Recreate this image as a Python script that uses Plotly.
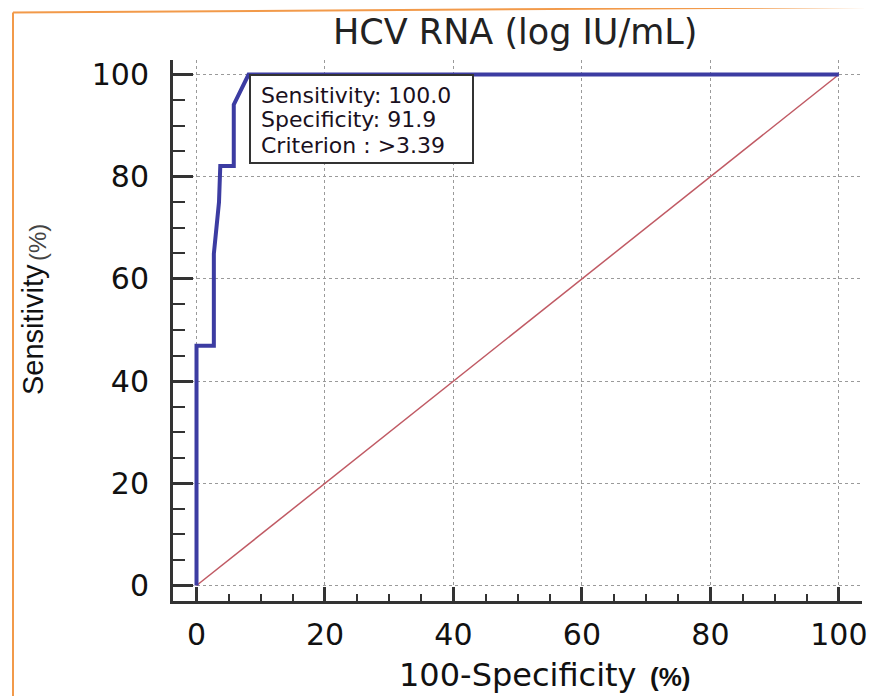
import plotly.graph_objects as go

# ROC curve (x = 100-Specificity, y = Sensitivity)
roc_fpr  = [0, 0, 2.7, 2.7, 3.5, 3.7, 5.8, 5.8, 8.1, 100]
roc_sens = [0, 46.9, 46.9, 64.9, 75.0, 82.1, 82.1, 94.1, 100, 100]

diag_x = [0, 100]
diag_y = [0, 100]

TITLE = "HCV RNA (log IU/mL)"
STATS = ["Sensitivity: 100.0", "Specificity: 91.9", "Criterion : >3.39"]

COLORS = {
    "roc"    : "#3c3ca2",
    "diag"   : "#c05a64",
    "axis"   : "#333333",
    "grid"   : "#9a9a9a",
    "text"   : "#111111",
    "border" : "#f29a4a",
}

FONT = "DejaVu Sans"
ARIAL = "Liberation Sans, Arial, sans-serif"

# page body has an 8px margin, so the figure sits 8px in from the window corner
PAGE_OFF = 8
W, H = 876, 696
PLOT_L, PLOT_R, PLOT_T, PLOT_B = 173, 862, 60, 601  # window pixels


def px(x):
    return (x - PLOT_L) / (PLOT_R - PLOT_L)


def py(y):
    return (PLOT_B - y) / (PLOT_B - PLOT_T)


fig = go.Figure()
fig.add_trace(go.Scatter(
    x=diag_x, y=diag_y, mode="lines",
    line=dict(color=COLORS["diag"], width=1.5),
    hoverinfo="skip", showlegend=False,
))
fig.add_trace(go.Scatter(
    x=roc_fpr, y=roc_sens, mode="lines",
    line=dict(color=COLORS["roc"], width=4),
    hovertemplate="100-Spec: %{x}<br>Sens: %{y}<extra></extra>",
    showlegend=False,
))

axis_common = dict(
    showline=True, linewidth=3, linecolor=COLORS["axis"], mirror=False,
    ticks="inside", tickwidth=3, tickcolor=COLORS["axis"],
    tick0=0, dtick=20, zeroline=False,
    showgrid=True, gridcolor=COLORS["grid"], gridwidth=1, griddash="dot",
    tickfont=dict(family=FONT, size=30, color=COLORS["text"]),
)

fig.update_layout(
    width=W, height=H,
    paper_bgcolor="white", plot_bgcolor="white",
    margin=dict(l=PLOT_L - PAGE_OFF, r=W - (PLOT_R - PAGE_OFF),
                t=PLOT_T - PAGE_OFF, b=H - (PLOT_B - PAGE_OFF)),
    xaxis=dict(
        **axis_common, range=[-3.66, 103.6], ticklen=14, ticklabelstandoff=5,
        minor=dict(ticks="inside", dtick=5, ticklen=7, tickwidth=1.5,
                   tickcolor=COLORS["axis"], showgrid=False),
    ),
    yaxis=dict(
        **axis_common, range=[-3.03, 102.84], ticklen=20, ticklabelstandoff=15,
        minor=dict(ticks="inside", dtick=5, ticklen=12, tickwidth=1.5,
                   tickcolor=COLORS["axis"], showgrid=False),
    ),
    showlegend=False,
)

annotations = [
    dict(text=TITLE, x=px(515), y=py(32), font=dict(family=FONT, size=35, color="#222")),
    dict(text="100-Specificity", x=px(518), y=py(675), font=dict(family=FONT, size=32, color=COLORS["text"])),
    dict(text="<b>(%)</b>", x=px(670), y=py(677), font=dict(family=ARIAL, size=26, color=COLORS["text"])),
    dict(text="Sensitivity", x=px(33), y=py(330), textangle=-90, font=dict(family=ARIAL, size=29, color=COLORS["text"])),
    dict(text="(%)", x=px(38), y=py(243), textangle=-90, font=dict(family=ARIAL, size=24, color="#444")),
]
for a in annotations:
    fig.add_annotation(xref="paper", yref="paper", showarrow=False,
                       xanchor="center", yanchor="middle", **a)

# stats box
fig.add_shape(type="rect", xref="paper", yref="paper",
              x0=px(250), x1=px(473), y0=py(163), y1=py(75),
              line=dict(color=COLORS["axis"], width=2), fillcolor="white", layer="above")
for i, line in enumerate(STATS):
    fig.add_annotation(xref="paper", yref="paper", showarrow=False,
                       x=px(259), y=py(95 + 25 * i), xanchor="left", yanchor="middle",
                       text=line, font=dict(family=FONT, size=22, color="#1a1020"))

# orange frame round the figure
fig.add_shape(type="line", xref="paper", yref="paper",
              x0=px(13), y0=py(12.5), x1=px(876), y1=py(7),
              line=dict(color=COLORS["border"], width=2), layer="above")
fig.add_shape(type="line", xref="paper", yref="paper",
              x0=px(13), y0=py(12.5), x1=px(13), y1=py(710),
              line=dict(color=COLORS["border"], width=2), layer="above")

fig.write_html("out.html")
